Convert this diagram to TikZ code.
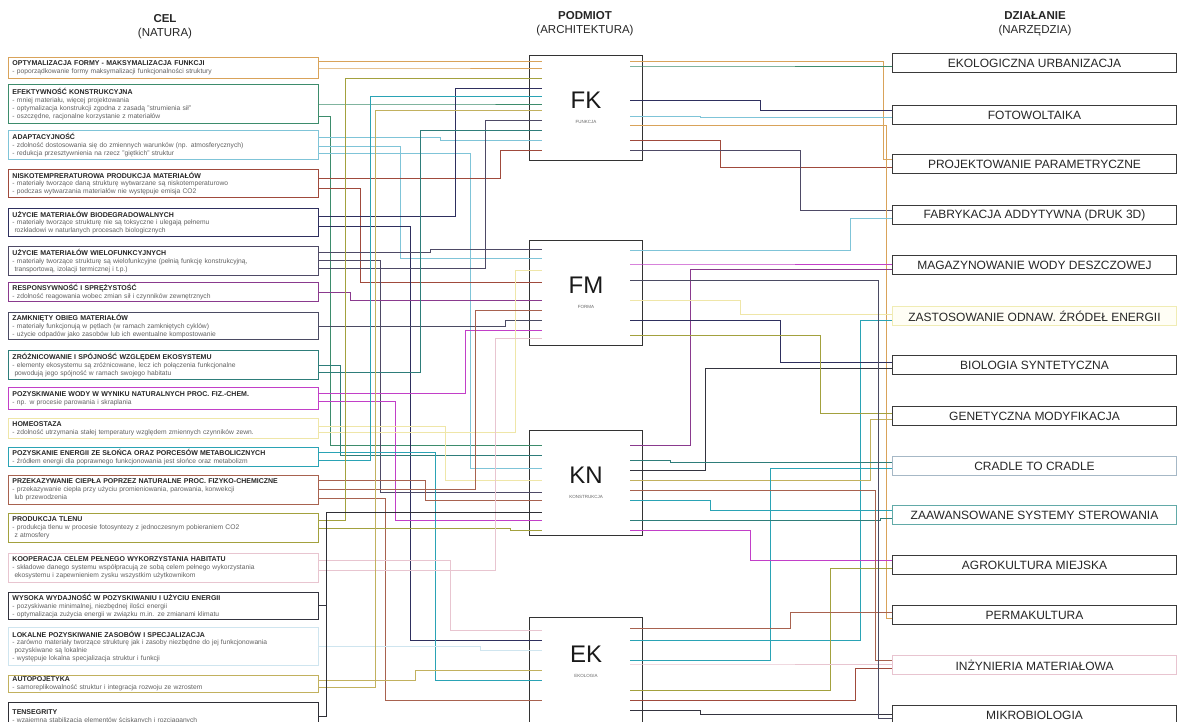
\documentclass[tikz,border=0pt]{standalone}
\usepackage{fontspec}
\setmainfont{Liberation Sans}
\usetikzlibrary{calc}
\definecolor{c1}{HTML}{D9A35A}
\definecolor{c2}{HTML}{3D8C6C}
\definecolor{c3}{HTML}{7FC4D8}
\definecolor{c4}{HTML}{A04A3C}
\definecolor{c5}{HTML}{2E2F5E}
\definecolor{c6}{HTML}{4E4A66}
\definecolor{c7}{HTML}{8A3A8E}
\definecolor{c8}{HTML}{4B4B63}
\definecolor{c9}{HTML}{2E7D7A}
\definecolor{c10}{HTML}{C23FC8}
\definecolor{c11}{HTML}{EFE6A8}
\definecolor{c12}{HTML}{2AA3B5}
\definecolor{c13}{HTML}{A8624F}
\definecolor{c14}{HTML}{A3A13E}
\definecolor{c15}{HTML}{E8C5D0}
\definecolor{c16}{HTML}{34343F}
\definecolor{c17}{HTML}{CFE5EF}
\definecolor{c18}{HTML}{C2B15E}
\definecolor{c19}{HTML}{2F2F36}
\definecolor{rdark}{HTML}{3A3A3A}
\definecolor{rpale}{HTML}{F0ECB4}
\definecolor{rcradle}{HTML}{A6B8C6}
\definecolor{rteal}{HTML}{62AAA8}
\definecolor{rpink}{HTML}{E8C4D0}
\newcommand\ttl[1]{{\fontsize{7}{7.9}\selectfont\textbf{\color{black!85}#1}}}
\newcommand\lwire[6]{\draw[wire=#6] (#1.east |- 0,#2) -| (#3,#5) -- ($(#4.west |- 0,#5)+(13,0)$);}
\newcommand\rwire[6]{\draw[wire=#6] ($(#1.east |- 0,#2)-(13,0)$) -| (#3,#5) -- (#4.west |- 0,#5);}
\begin{document}
\begin{tikzpicture}[x=1pt,y=-1pt,
  head/.style={align=center,font=\fontsize{11.5}{14}\selectfont,text=black!85,inner sep=0},
  lbox/.style={draw=#1,line width=1pt,fill=white,rectangle,anchor=north west,
    minimum width=310pt,text width=302pt,inner xsep=4pt,inner ysep=0.5pt,align=left,
    font=\fontsize{6.7}{7.9}\selectfont,text=black!62},
  cbox/.style={draw=black!80,line width=1.1pt,fill=white,minimum width=113pt,
    minimum height=105pt,anchor=north west,align=center,inner sep=0,text=black!90},
  rbox/.style={draw=#1,line width=1pt,fill=white,anchor=north west,minimum width=284pt,
    minimum height=19pt,inner sep=0,font=\fontsize{12}{12}\selectfont,text=black!85},
  wire/.style={line width=0.8pt,draw=#1}]
\useasboundingbox (0,0) rectangle (1178,722);
\fill[white] (0,0) rectangle (1178,722);
% headers
\node[head] (hcel) at (165,27) {\textbf{CEL}\\(NATURA)};
\node[head] (hpod) at (585,24) {\textbf{PODMIOT}\\(ARCHITEKTURA)};
\node[head] (hdz) at (1035,24) {\textbf{DZIAŁANIE}\\(NARZĘDZIA)};
% left boxes
\node[lbox=c1,minimum height=21pt] (L1) at (8,57) {\ttl{OPTYMALIZACJA FORMY - MAKSYMALIZACJA FUNKCJI}\\- poporządkowanie formy maksymalizacji funkcjonalności struktury};
\node[lbox=c2,minimum height=39pt] (L2) at (8,84) {\ttl{EFEKTYWNOŚĆ KONSTRUKCYJNA}\\- mniej materiału, więcej projektowania\\- optymalizacja konstrukcji zgodna z zasadą "strumienia sił"\\- oszczędne, racjonalne korzystanie z materiałów};
\node[lbox=c3,minimum height=29pt] (L3) at (8,130) {\ttl{ADAPTACYJNOŚĆ}\\- zdolność dostosowania się do zmiennych warunków (np. atmosferycznych)\\- redukcja przesztywnienia na rzecz "giętkich" struktur};
\node[lbox=c4,minimum height=28pt] (L4) at (8,169) {\ttl{NISKOTEMPRERATUROWA PRODUKCJA MATERIAŁÓW}\\- materiały tworzące daną strukturę wytwarzane są niskotemperaturowo\\- podczas wytwarzania materiałów nie występuje emisja CO2};
\node[lbox=c5,minimum height=28pt] (L5) at (8,208) {\ttl{UŻYCIE MATERIAŁÓW BIODEGRADOWALNYCH}\\- materiały tworzące strukturę nie są toksyczne i ulegają pełnemu\\\hspace*{2pt}rozkładowi w naturlanych procesach biologicznych};
\node[lbox=c6,minimum height=29pt] (L6) at (8,246) {\ttl{UŻYCIE MATERIAŁÓW WIELOFUNKCYJNYCH}\\- materiały tworzące strukturę są wielofunkcyjne (pełnią funkcję konstrukcyjną,\\\hspace*{2pt}transportową, izolacji termicznej i t.p.)};
\node[lbox=c7,minimum height=19pt] (L7) at (8,282) {\ttl{RESPONSYWNOŚĆ I SPRĘŻYSTOŚĆ}\\- zdolność reagowania wobec zmian sił i czynników zewnętrznych};
\node[lbox=c8,minimum height=27pt] (L8) at (8,312) {\ttl{ZAMKNIĘTY OBIEG MATERIAŁÓW}\\- materiały funkcjonują w pętlach (w ramach zamkniętych cyklów)\\- użycie odpadów jako zasobów lub ich ewentualne kompostowanie};
\node[lbox=c9,minimum height=29pt] (L9) at (8,350) {\ttl{ZRÓŻNICOWANIE I SPÓJNOŚĆ WZGLĘDEM EKOSYSTEMU}\\- elementy ekosystemu są zróżnicowane, lecz ich połączenia funkcjonalne\\\hspace*{2pt}powodują jego spójność w ramach swojego habitatu};
\node[lbox=c10,minimum height=22pt] (L10) at (8,387) {\ttl{POZYSKIWANIE WODY W WYNIKU NATURALNYCH PROC. FIZ.-CHEM.}\\- np. w procesie parowania i skraplania};
\node[lbox=c11,minimum height=20pt] (L11) at (8,418) {\ttl{HOMEOSTAZA}\\- zdolność utrzymania stałej temperatury względem zmiennych czynników zewn.};
\node[lbox=c12,minimum height=19pt] (L12) at (8,447) {\ttl{POZYSKANIE ENERGII ZE SŁOŃCA ORAZ PORCESÓW METABOLICZNYCH}\\- źródłem energii dla poprawnego funkcjonowania jest słońce oraz metabolizm};
\node[lbox=c13,minimum height=29pt] (L13) at (8,475) {\ttl{PRZEKAZYWANIE CIEPŁA POPRZEZ NATURALNE PROC. FIZYKO-CHEMICZNE}\\- przekazywanie ciepła przy użyciu promieniowania, parowania, konwekcji\\\hspace*{2pt}lub przewodzenia};
\node[lbox=c14,minimum height=29pt] (L14) at (8,513) {\ttl{PRODUKCJA TLENU}\\- produkcja tlenu w procesie fotosyntezy z jednoczesnym pobieraniem CO2\\\hspace*{2pt}z atmosfery};
\node[lbox=c15,minimum height=29pt] (L15) at (8,553) {\ttl{KOOPERACJA CELEM PEŁNEGO WYKORZYSTANIA HABITATU}\\- składowe danego systemu współpracują ze sobą celem pełnego wykorzystania\\\hspace*{2pt}ekosystemu i zapewnieniem zysku wszystkim użytkownikom};
\node[lbox=c16,minimum height=27pt] (L16) at (8,592) {\ttl{WYSOKA WYDAJNOŚĆ W POZYSKIWANIU I UŻYCIU ENERGII}\\- pozyskiwanie minimalnej, niezbędnej ilości energii\\- optymalizacja zużycia energii w związku m.in. ze zmianami klimatu};
\node[lbox=c17,minimum height=38pt] (L17) at (8,627) {\ttl{LOKALNE POZYSKIWANIE ZASOBÓW I SPECJALIZACJA}\\- zarówno materiały tworzące strukturę jak i zasoby niezbędne do jej funkcjonowania\\\hspace*{2pt}pozyskiwane są lokalnie\\- występuje lokalna specjalizacja struktur i funkcji};
\node[lbox=c18,minimum height=17pt] (L18) at (8,675) {\ttl{AUTOPOJETYKA}\\- samoreplikowalność struktur i integracja rozwoju ze wzrostem};
\node[lbox=c19,minimum height=28pt,text depth=8pt] (L19) at (8,702) {\ttl{TENSEGRITY}\\- wzajemna stabilizacja elementów ściskanych i rozciąganych};
% centre boxes
\node[cbox] (FK) at (529,55) {\fontsize{24}{24}\selectfont FK\\[3pt]\fontsize{4.5}{5}\selectfont\color{black!60}FUNKCJA};
\node[cbox] (FM) at (529,240) {\fontsize{24}{24}\selectfont FM\\[3pt]\fontsize{4.5}{5}\selectfont\color{black!60}FORMA};
\node[cbox] (KN) at (529,430) {\fontsize{24}{24}\selectfont KN\\[3pt]\fontsize{4.5}{5}\selectfont\color{black!60}KONSTRUKCJA};
\node[cbox,minimum height=112pt] (EK) at (529,617) {\fontsize{24}{24}\selectfont EK\\[3pt]\fontsize{4.5}{5}\selectfont\color{black!60}EKOLOGIA\\[12pt]};
% right boxes
\node[rbox=rdark] (R1) at (892,53) {EKOLOGICZNA URBANIZACJA};
\node[rbox=rdark] (R2) at (892,105) {FOTOWOLTAIKA};
\node[rbox=rdark] (R3) at (892,154) {PROJEKTOWANIE PARAMETRYCZNE};
\node[rbox=rdark] (R4) at (892,205) {FABRYKACJA ADDYTYWNA (DRUK 3D)};
\node[rbox=rdark] (R5) at (892,255) {MAGAZYNOWANIE WODY DESZCZOWEJ};
\node[rbox=rpale,fill=yellow!4] (R6) at (892,306) {ZASTOSOWANIE ODNAW. ŹRÓDEŁ ENERGII};
\node[rbox=rdark] (R7) at (892,355) {BIOLOGIA SYNTETYCZNA};
\node[rbox=rdark] (R8) at (892,406) {GENETYCZNA MODYFIKACJA};
\node[rbox=rcradle] (R9) at (892,456) {CRADLE TO CRADLE};
\node[rbox=rteal] (R10) at (892,505) {ZAAWANSOWANE SYSTEMY STEROWANIA};
\node[rbox=rdark] (R11) at (892,555) {AGROKULTURA MIEJSKA};
\node[rbox=rdark] (R12) at (892,605) {PERMAKULTURA};
\node[rbox=rpink] (R13) at (892,655) {INŻYNIERIA MATERIAŁOWA};
\node[rbox=rdark] (R14) at (892,705) {MIKROBIOLOGIA};
% left wires: from, y, bus x, to, y, colour
\draw[wire=c1] (L1.east |- 0,61) -- ($(FK.west |- 0,61)+(13,0)$);
\lwire{L1}{68}{400}{FK}{68}{c1}
\lwire{L2}{104}{450}{FK}{104}{c2}
\lwire{L2}{116}{330}{KN}{445}{c2}
\lwire{L3}{137}{440}{FK}{140}{c3}
\lwire{L3}{146}{400}{FM}{258}{c3}
\lwire{L3}{153}{470}{KN}{468}{c3}
\lwire{L4}{178}{500}{FK}{150}{c4}
\lwire{L4}{188}{360}{FM}{282}{c4}
\lwire{L5}{216}{455}{FK}{88}{c5}
\lwire{L5}{226}{410}{EK}{640}{c5}
\lwire{L6}{252}{430}{FM}{249}{c6}
\lwire{L6}{260}{380}{KN}{492}{c6}
\lwire{L6}{268}{485}{FK}{120}{c6}
\lwire{L7}{292}{350}{FM}{300}{c7}
\lwire{L8}{326}{505}{FM}{320}{c8}
\lwire{L9}{365}{340}{KN}{455}{c9}
\lwire{L9}{372}{420}{FK}{130}{c9}
\lwire{L10}{393}{465}{FM}{330}{c10}
\lwire{L10}{401}{395}{KN}{520}{c10}
\lwire{L11}{426}{445}{KN}{480}{c11}
\lwire{L11}{432}{515}{FM}{270}{c11}
\lwire{L12}{452}{435}{EK}{680}{c12}
\lwire{L12}{460}{370}{FK}{96}{c12}
\lwire{L13}{480}{425}{KN}{500}{c13}
\lwire{L13}{489}{475}{FM}{310}{c13}
\lwire{L13}{498}{385}{EK}{700}{c13}
\lwire{L14}{520}{345}{FK}{78}{c14}
\lwire{L14}{528}{510}{KN}{530}{c14}
\lwire{L15}{560}{450}{EK}{630}{c15}
\lwire{L15}{570}{495}{FM}{338}{c15}
\lwire{L16}{605}{326}{KN}{512}{c16}
\lwire{L17}{646}{480}{EK}{650}{c17}
\lwire{L18}{680}{415}{EK}{670}{c18}
\lwire{L18}{687}{375}{FK}{110}{c18}
\lwire{L19}{716}{326}{KN}{512}{c19}
% right wires: from, y, bus x, to, y, colour
\rwire{FK}{61}{883}{R3}{159}{c1}
\rwire{FK}{66}{700}{R1}{66}{c2}
\rwire{FK}{100}{760}{R2}{110}{c5}
\rwire{FK}{116}{700}{R2}{117}{c3}
\rwire{FK}{140}{720}{R3}{167}{c4}
\rwire{FK}{150}{800}{R4}{210}{c6}
\rwire{FK}{125}{886}{R12}{618}{c1}
\rwire{FM}{250}{850}{R4}{218}{c3}
\rwire{FM}{264}{700}{R5}{264}{c10}
\rwire{KN}{445}{690}{R5}{269}{c7}
\rwire{FM}{300}{740}{R6}{314}{c11}
\rwire{EK}{640}{860}{R6}{320}{c12}
\rwire{FM}{320}{780}{R7}{362}{c5}
\rwire{KN}{470}{705}{R7}{368}{c16}
\rwire{FM}{335}{820}{R8}{413}{c14}
\rwire{KN}{480}{870}{R8}{419}{c18}
\rwire{KN}{460}{670}{R9}{462}{c9}
\rwire{EK}{660}{770}{R9}{468}{c12}
\rwire{KN}{500}{710}{R10}{510}{c12}
\rwire{KN}{520}{880}{R10}{518}{c9}
\rwire{KN}{530}{750}{R11}{560}{c10}
\rwire{EK}{690}{830}{R11}{568}{c14}
\rwire{EK}{628}{790}{R12}{612}{c13}
\rwire{KN}{490}{875}{R13}{660}{c13}
\rwire{EK}{664}{700}{R13}{664}{c15}
\rwire{EK}{700}{855}{R13}{668}{c4}
\rwire{EK}{710}{700}{R14}{714}{c16}
\rwire{FM}{280}{878}{R14}{718}{c8}
\end{tikzpicture}
\end{document}
